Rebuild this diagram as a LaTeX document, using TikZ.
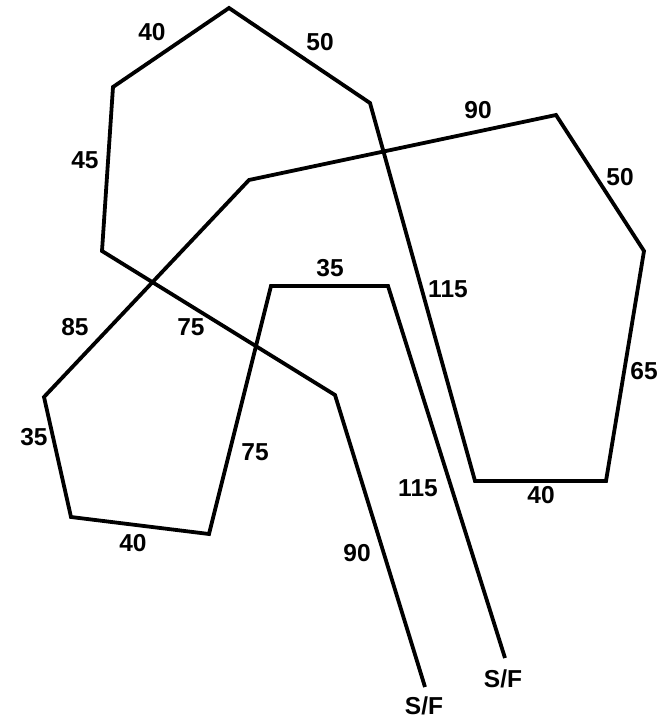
\documentclass[tikz,border=0pt]{standalone}
\usepackage{fontspec}
\setmainfont{Liberation Sans}

\begin{document}
\begin{tikzpicture}[x=1pt, y=-1pt]

% ---- Define Styles ----
\tikzset{
  route/.style={draw=black, line width=3.8pt, line join=miter},
  seglabel/.style={font=\fontsize{24.5}{27}\selectfont\bfseries, inner sep=0pt, anchor=center}
}

\useasboundingbox (0,0) rectangle (665,719);

% =========================================================
% VERTICES of the route (S/F to S/F)
% =========================================================
\coordinate (sfA) at (425,687);
\coordinate (pA)  at (335,395);
\coordinate (pB)  at (102,251);
\coordinate (pC)  at (113,87);
\coordinate (pD)  at (229,8);
\coordinate (pE)  at (370,103);
\coordinate (pF)  at (475,481);
\coordinate (pG)  at (606,481);
\coordinate (pH)  at (644,251);
\coordinate (pI)  at (556,115);
\coordinate (pJ)  at (249,180);
\coordinate (pK)  at (44,397);
\coordinate (pL)  at (71,517);
\coordinate (pM)  at (209,534);
\coordinate (pN)  at (271,286);
\coordinate (pO)  at (388,286);
\coordinate (sfB) at (505,658);

% =========================================================
% ROUTE
% =========================================================
\draw[route] (sfA) -- (pA) -- (pB) -- (pC) -- (pD) -- (pE) -- (pF) -- (pG)
  -- (pH) -- (pI) -- (pJ) -- (pK) -- (pL) -- (pM) -- (pN) -- (pO) -- (sfB);

% =========================================================
% SEGMENT LENGTHS
% =========================================================
\node[seglabel] (lAB) at (191,327) {75};
\node[seglabel] (lBC) at (85,160)  {45};
\node[seglabel] (lCD) at (152,32)  {40};
\node[seglabel] (lDE) at (320,42)  {50};
\node[seglabel] (lEF) at (448,289) {115};
\node[seglabel] (lFG) at (541,495) {40};
\node[seglabel] (lGH) at (644,371) {65};
\node[seglabel] (lHI) at (620,177) {50};
\node[seglabel] (lIJ) at (478,110) {90};
\node[seglabel] (lJK) at (75,327)  {85};
\node[seglabel] (lKL) at (34,437)  {35};
\node[seglabel] (lLM) at (133,543) {40};
\node[seglabel] (lMN) at (255,452) {75};
\node[seglabel] (lNO) at (330,268) {35};
\node[seglabel] (lOB) at (418,488) {115};
\node[seglabel] (lAA) at (357,553) {90};

% start / finish marks
\node[seglabel] (sfAlbl) at (424,706) {S/F};
\node[seglabel] (sfBlbl) at (503,679) {S/F};

\end{tikzpicture}
\end{document}
